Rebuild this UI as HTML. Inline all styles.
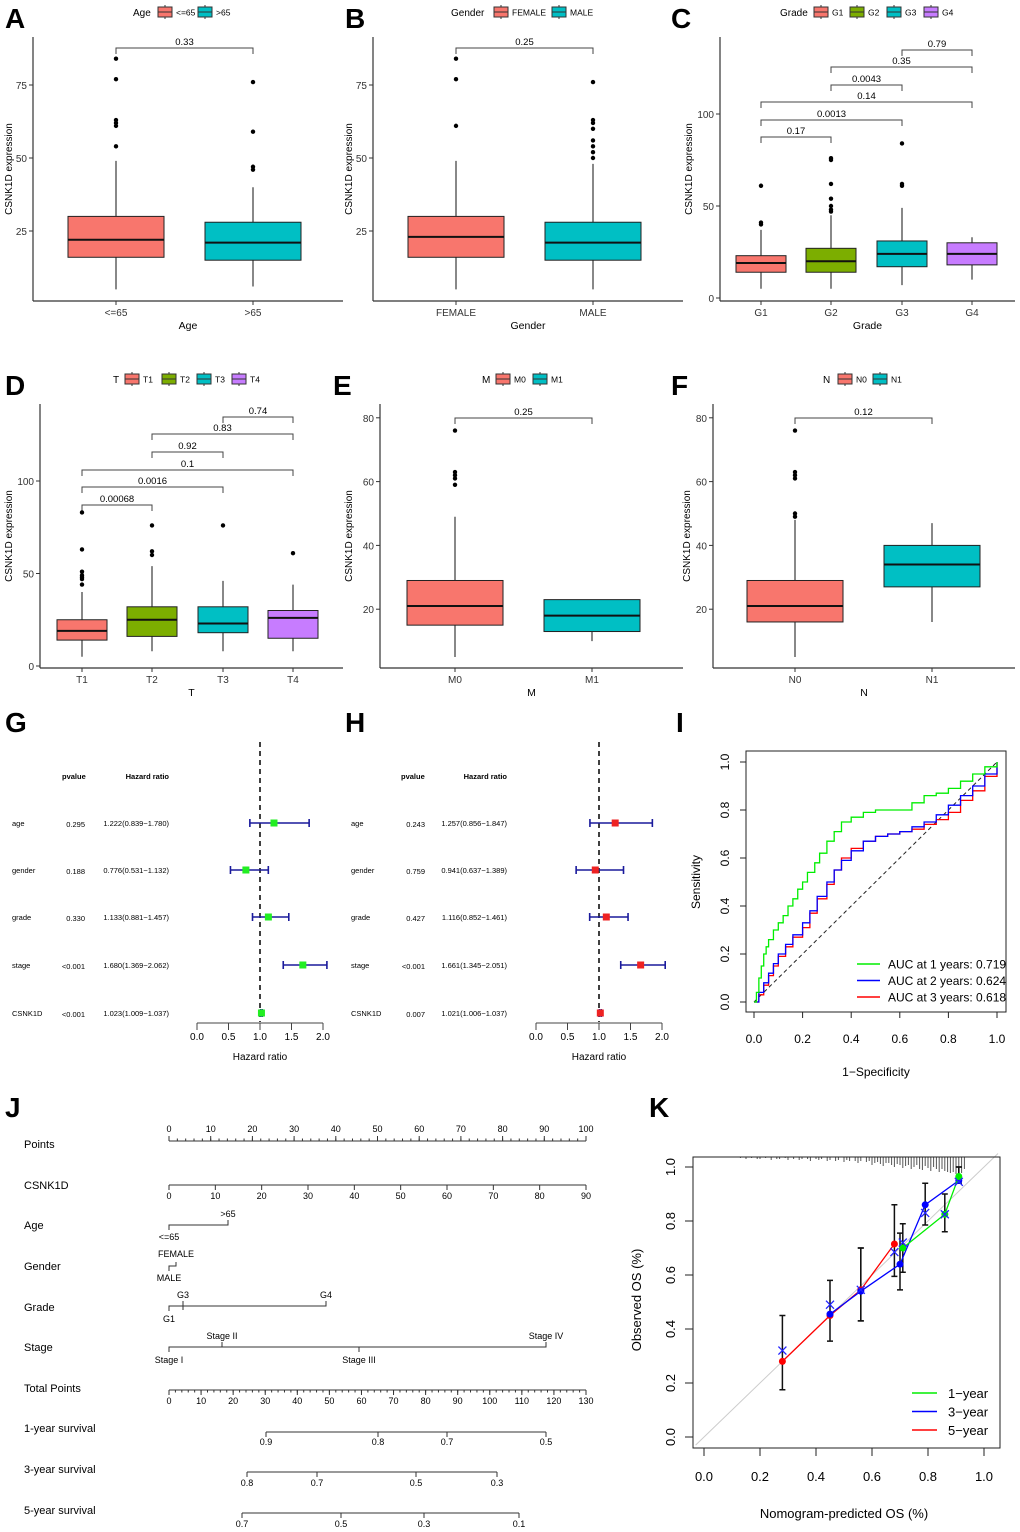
<!DOCTYPE html>
<html><head><meta charset="utf-8">
<style>
html,body{margin:0;padding:0;background:#fff;}
svg{display:block;font-family:"Liberation Sans",Arial,sans-serif;}
</style></head>
<body>
<svg id="fig" width="1020" height="1532" viewBox="0 0 1020 1532" xmlns="http://www.w3.org/2000/svg"></svg>
<script>
// ---------- DATA ----------
const ageCats = ["<=65", ">65"];
const ageStats = [[16,22,30,5,49],[15,21,28,6,40]];
const ageOut = [[54,61,62,63,77,84],[46,47,59,76]];
const genderCats = ["FEMALE","MALE"];
const genderStats = [[16,23,30,5,49],[15,21,28,5,48]];
const genderOut = [[61,77,84],[50,52,54,56,60,62,63,76]];
const gradeCats = ["G1","G2","G3","G4"];
const gradeStats = [[14,19,23,5,37],[14,20,27,5,45],[17,24,31,7,49],[18,24,30,10,33]];
const gradeOut = [[40,41,61],[47,48,50,54,62,75,76],[61,62,84],[]];
const gradeP = [["0.79",2,3],["0.35",1,3],["0.0043",1,2],["0.14",0,3],["0.0013",0,2],["0.17",0,1]];
const tCats = ["T1","T2","T3","T4"];
const tStats = [[14,19,25,5,40],[16,25,32,8,54],[18,23,32,8,46],[15,26,30,8,44]];
const tOut = [[44,47,48,49,51,63,83],[60,62,76],[76],[61]];
const tP = [["0.74",2,3],["0.83",1,3],["0.92",1,2],["0.1",0,3],["0.0016",0,2],["0.00068",0,1]];
const mCats = ["M0","M1"];
const mStats = [[15,21,29,5,49],[13,18,23,10,23]];
const mOut = [[59,61,62,63,76],[]];
const nCats = ["N0","N1"];
const nStats = [[16,21,29,5,48],[27,34,40,16,47]];
const nOut = [[49,50,61,62,63,76],[]];
const forestVars = ["age","gender","grade","stage","CSNK1D"];
const uniP = ["0.295","0.188","0.330","<0.001","<0.001"];
const uniHR = [1.222,0.776,1.133,1.680,1.023];
const uniLo = [0.839,0.531,0.881,1.369,1.009];
const uniHi = [1.780,1.132,1.457,2.062,1.037];
const multiP = ["0.243","0.759","0.427","<0.001","0.007"];
const multiHR = [1.257,0.941,1.116,1.661,1.021];
const multiLo = [0.856,0.637,0.852,1.345,1.006];
const multiHi = [1.847,1.389,1.461,2.051,1.037];
const hrTicks = [0,0.5,1,1.5,2];
const rocG_fpr = [0,0.01,0.02,0.03,0.04,0.05,0.06,0.08,0.1,0.12,0.14,0.16,0.18,0.2,0.22,0.25,0.27,0.3,0.33,0.36,0.4,0.45,0.5,0.55,0.6,0.65,0.7,0.75,0.8,0.85,0.9,0.95,1];
const rocG_tpr = [0,0.04,0.1,0.15,0.2,0.23,0.26,0.3,0.33,0.36,0.4,0.43,0.47,0.5,0.54,0.58,0.62,0.67,0.71,0.75,0.77,0.79,0.8,0.8,0.8,0.83,0.86,0.87,0.89,0.92,0.95,0.98,1];
const rocB_fpr = [0,0.02,0.04,0.06,0.08,0.1,0.13,0.16,0.2,0.23,0.26,0.3,0.33,0.36,0.4,0.45,0.5,0.55,0.6,0.65,0.7,0.75,0.8,0.85,0.9,0.95,1];
const rocB_tpr = [0,0.04,0.08,0.12,0.16,0.2,0.24,0.28,0.33,0.38,0.44,0.5,0.55,0.59,0.63,0.67,0.69,0.7,0.71,0.73,0.75,0.78,0.82,0.86,0.9,0.95,1];
const rocR_fpr = [0,0.02,0.04,0.06,0.08,0.1,0.13,0.16,0.2,0.23,0.26,0.3,0.33,0.36,0.4,0.45,0.5,0.55,0.6,0.65,0.7,0.75,0.8,0.85,0.9,0.95,1];
const rocR_tpr = [0,0.03,0.07,0.11,0.15,0.19,0.23,0.27,0.31,0.37,0.43,0.49,0.55,0.6,0.64,0.67,0.69,0.7,0.71,0.72,0.74,0.76,0.79,0.84,0.88,0.94,1];
const rocTicks = [0,0.2,0.4,0.6,0.8,1];
const rocLegend = ["AUC at 1 years: 0.719","AUC at 2 years: 0.624","AUC at 3 years: 0.618"];
const cal1x = [0.71,0.86,0.91], cal1y=[0.70,0.825,0.965], cal1lo=[0.61,0.76,0.94], cal1hi=[0.79,0.90,1.0];
const cal3x = [0.45,0.56,0.70,0.79,0.91], cal3y=[0.455,0.54,0.64,0.86,0.95], cal3lo=[0.355,0.43,0.545,0.785,0.94], cal3hi=[0.58,0.70,0.755,0.94,1.0];
const cal3xm = [0.28,0.45,0.56,0.68,0.71,0.79,0.86,0.91], cal3ym=[0.32,0.49,0.545,0.685,0.72,0.83,0.825,0.945];
const cal5x = [0.28,0.45,0.56,0.68], cal5y=[0.28,0.45,0.545,0.715], cal5lo=[0.175,0.45,0.43,0.595], cal5hi=[0.45,0.45,0.70,0.86];
const calRug = [0.13,0.15,0.17,0.19,0.2,0.22,0.24,0.26,0.27,0.29,0.3,0.32,0.34,0.35,0.37,0.38,0.4,0.41,0.42,0.44,0.45,0.47,0.48,0.5,0.51,0.52,0.54,0.55,0.56,0.58,0.59,0.6,0.61,0.62,0.63,0.64,0.65,0.66,0.67,0.68,0.69,0.7,0.71,0.72,0.73,0.74,0.75,0.76,0.77,0.78,0.79,0.8,0.81,0.82,0.83,0.84,0.85,0.86,0.87,0.88,0.89,0.9,0.91,0.92,0.93];
const calRugH = [1,2,1,2,2,1,3,2,2,1,3,2,3,2,2,4,2,3,2,4,3,4,3,5,3,4,4,6,4,5,4,8,6,5,7,9,6,6,8,10,7,8,11,9,8,12,10,8,12,13,9,11,14,10,12,15,12,14,15,16,15,17,18,16,12];
const calTicks = [0,0.2,0.4,0.6,0.8,1];

// ---------- HELPERS ----------
const NS="http://www.w3.org/2000/svg";
const svg=document.getElementById('fig');
function mk(tag,attrs,parent,text){const e=document.createElementNS(NS,tag);for(const k in attrs)e.setAttribute(k,attrs[k]);if(text!==undefined)e.textContent=text;(parent||svg).appendChild(e);return e;}
function grp(name){const g=document.createElementNS(NS,'g');


svg.appendChild(g);return g;}
function txt(g,x,y,s,size,anchor,extra){return mk('text',Object.assign({x:x,y:y,'font-size':size,'text-anchor':anchor||'start',fill:'#000'},extra||{}),g,s);}
const COLORS=["#F8766D","#7CAE00","#00BFC4","#C77CFF"];
const COLORS2=["#F8766D","#00BFC4"];

function letter(ch,x,y){const g=grp('panel-label-'+ch.toLowerCase());txt(g,x,y,ch,28,'start',{'font-weight':'bold'});}

function boxPanel(o){
  const g=grp(o.name);
  const ys=v=>o.y0-v*o.k;
  mk('line',{x1:o.left,y1:o.top,x2:o.left,y2:o.bottom,stroke:'#333','stroke-width':1.2},g);
  mk('line',{x1:o.left,y1:o.bottom,x2:o.right,y2:o.bottom,stroke:'#333','stroke-width':1.2},g);
  o.yticks.forEach(v=>{const y=ys(v);mk('line',{x1:o.left-4,y1:y,x2:o.left,y2:y,stroke:'#333'},g);txt(g,o.left-6,y+4,String(v),10,'end',{fill:'#333'});});
  const yt=txt(g,o.ytx,(o.top+o.bottom)/2,'CSNK1D  expression',10,'middle',{transform:`rotate(-90 ${o.ytx} ${(o.top+o.bottom)/2})`});
  
  o.cats.forEach((c,i)=>{
    const cx=o.centers[i],s=o.stats[i],hw=o.hw;
    const b=grp(o.name+'-box-'+c);
    mk('line',{x1:cx,y1:ys(s[3]),x2:cx,y2:ys(s[4]),stroke:'#111','stroke-width':1},b);
    mk('rect',{x:cx-hw,y:ys(s[2]),width:2*hw,height:ys(s[0])-ys(s[2]),fill:o.colors[i],stroke:'#222','stroke-width':1},b);
    mk('line',{x1:cx-hw,y1:ys(s[1]),x2:cx+hw,y2:ys(s[1]),stroke:'#111','stroke-width':2},b);
    o.out[i].forEach(v=>mk('circle',{cx:cx,cy:ys(v),r:2.2,fill:'#000'},b));
    mk('line',{x1:cx,y1:o.bottom,x2:cx,y2:o.bottom+4,stroke:'#333'},g);
    txt(g,cx,o.bottom+15,c,10,'middle',{fill:'#333'});
  });
  const xt=txt(g,(o.left+o.right)/2,o.bottom+28,o.xtitle,10.5,'middle');
  
  o.pvals.forEach((p,j)=>{const y=o.pY[j],x1=o.centers[p[1]],x2=o.centers[p[2]];
    mk('path',{d:`M${x1} ${y+6}V${y}H${x2}V${y+6}`,fill:'none',stroke:'#444','stroke-width':1},g);
    txt(g,(x1+x2)/2,y-3,p[0],9.5,'middle');});
  const lg=grp(o.name+'-legend');
  txt(lg,o.legX,o.legY+4,o.legTitle,10,'start');
  o.cats.forEach((c,i)=>{const bx=o.legBox[i];
    mk('line',{x1:bx+7,y1:o.legY-7,x2:bx+7,y2:o.legY+7,stroke:'#333'},lg);
    mk('rect',{x:bx,y:o.legY-5,width:14,height:10,fill:o.colors[i],stroke:'#333'},lg);
    mk('line',{x1:bx,y1:o.legY,x2:bx+14,y2:o.legY,stroke:'#333'},lg);
    txt(lg,bx+18,o.legY+3.5,c,8.5,'start');});
}

letter('A',5,28);letter('B',345,28);letter('C',671,28);
letter('D',5,395);letter('E',333,395);letter('F',671,395);
letter('G',5,732);letter('H',345,732);letter('I',676,732);
letter('J',5,1117);letter('K',649,1117);

boxPanel({name:'age-boxplot',left:33,right:343,top:37,bottom:301,y0:304,k:2.92,yticks:[25,50,75],ytx:12,cats:ageCats,stats:ageStats,out:ageOut,centers:[116,253],hw:48,colors:COLORS2,xtitle:'Age',pvals:[["0.33",0,1]],pY:[48],legX:133,legY:12,legTitle:'Age',legBox:[158,198]});
boxPanel({name:'gender-boxplot',left:373,right:683,top:37,bottom:301,y0:304,k:2.92,yticks:[25,50,75],ytx:352,cats:genderCats,stats:genderStats,out:genderOut,centers:[456,593],hw:48,colors:COLORS2,xtitle:'Gender',pvals:[["0.25",0,1]],pY:[48],legX:451,legY:12,legTitle:'Gender',legBox:[494,552]});
boxPanel({name:'grade-boxplot',left:720,right:1015,top:37,bottom:301,y0:298,k:1.84,yticks:[0,50,100],ytx:692,cats:gradeCats,stats:gradeStats,out:gradeOut,centers:[761,831,902,972],hw:25,colors:COLORS,xtitle:'Grade',pvals:gradeP,pY:[50,67,85,102,120,137],legX:780,legY:12,legTitle:'Grade',legBox:[814,850,887,924]});
boxPanel({name:'t-stage-boxplot',left:40,right:343,top:404,bottom:668,y0:666,k:1.85,yticks:[0,50,100],ytx:12,cats:tCats,stats:tStats,out:tOut,centers:[82,152,223,293],hw:25,colors:COLORS,xtitle:'T',pvals:tP,pY:[417,434,452,470,487,505],legX:113,legY:379,legTitle:'T',legBox:[125,162,197,232]});
boxPanel({name:'m-stage-boxplot',left:380,right:683,top:404,bottom:668,y0:673,k:3.19,yticks:[20,40,60,80],ytx:352,cats:mCats,stats:mStats,out:mOut,centers:[455,592],hw:48,colors:COLORS2,xtitle:'M',pvals:[["0.25",0,1]],pY:[418],legX:482,legY:379,legTitle:'M',legBox:[496,533]});
boxPanel({name:'n-stage-boxplot',left:713,right:1015,top:404,bottom:668,y0:673,k:3.19,yticks:[20,40,60,80],ytx:690,cats:nCats,stats:nStats,out:nOut,centers:[795,932],hw:48,colors:COLORS2,xtitle:'N',pvals:[["0.12",0,1]],pY:[418],legX:823,legY:379,legTitle:'N',legBox:[838,873]});

// ---------- FOREST ----------
function forest(o){
  const g=grp(o.name);
  const xs=v=>o.x0+v*o.k;
  const rows=[823,870,917,965,1013];
  txt(g,o.nameX+50,779,'pvalue',7.5,'start',{'font-weight':'bold'});
  txt(g,o.hrR,779,'Hazard ratio',7.5,'end',{'font-weight':'bold'});
  mk('line',{x1:xs(1),y1:742,x2:xs(1),y2:1022,stroke:'#111','stroke-width':1.6,'stroke-dasharray':'5,4'},g);
  forestVars.forEach((v,i)=>{const y=rows[i];
    txt(g,o.nameX,y+3,v,7.5,'start');
    txt(g,o.pR,y+4,o.p[i],7.5,'end');
    txt(g,o.hrR,y+3,`${o.hr[i].toFixed(3)}(${o.lo[i].toFixed(3)}\u2212${o.hi[i].toFixed(3)})`,7.5,'end');
    const r=grp(o.name+'-row-'+v);
    mk('line',{x1:xs(o.lo[i]),y1:y,x2:xs(o.hi[i]),y2:y,stroke:'#1a1a9c','stroke-width':1.6},r);
    mk('line',{x1:xs(o.lo[i]),y1:y-4,x2:xs(o.lo[i]),y2:y+4,stroke:'#1a1a9c','stroke-width':1.6},r);
    mk('line',{x1:xs(o.hi[i]),y1:y-4,x2:xs(o.hi[i]),y2:y+4,stroke:'#1a1a9c','stroke-width':1.6},r);
    mk('rect',{x:xs(o.hr[i])-3.5,y:y-3.5,width:7,height:7,fill:o.col},r);
  });
  mk('line',{x1:xs(0),y1:1023,x2:xs(2),y2:1023,stroke:'#444'},g);
  hrTicks.forEach(t=>{mk('line',{x1:xs(t),y1:1023,x2:xs(t),y2:1030,stroke:'#444'},g);txt(g,xs(t),1040,t.toFixed(1),10,'middle');});
  txt(g,xs(1),1060,'Hazard ratio',10,'middle');
}
forest({name:'univariate-forest',x0:197,k:63,nameX:12,pR:85,hrR:169,p:uniP,hr:uniHR,lo:uniLo,hi:uniHi,col:'#22ee22'});
forest({name:'multivariate-forest',x0:536,k:63,nameX:351,pR:425,hrR:507,p:multiP,hr:multiHR,lo:multiLo,hi:multiHi,col:'#ee2222'});

// ---------- ROC ----------
(function(){
  const g=grp('roc-chart');
  const xs=v=>754+v*243, ys=v=>1002-v*240;
  mk('rect',{x:746,y:751,width:260,height:261,fill:'none',stroke:'#222'},g);
  mk('line',{x1:xs(0),y1:ys(0),x2:xs(1),y2:ys(1),stroke:'#222','stroke-dasharray':'4,3'},g);
  rocTicks.forEach(t=>{mk('line',{x1:xs(t),y1:1012,x2:xs(t),y2:1018,stroke:'#222'},g);txt(g,xs(t),1043,t.toFixed(1),12,'middle');
    mk('line',{x1:740,y1:ys(t),x2:746,y2:ys(t),stroke:'#222'},g);txt(g,729,ys(t),t.toFixed(1),12,'middle',{transform:`rotate(-90 729 ${ys(t)})`});});
  txt(g,700,882,'Sensitivity',12,'middle',{transform:'rotate(-90 700 882)'});
  txt(g,876,1076,'1\u2212Specificity',12,'middle');
  function step(fx,ty,col,nm){let d=`M${xs(fx[0])} ${ys(ty[0])}`;for(let i=1;i<fx.length;i++){d+=`H${xs(fx[i])}V${ys(ty[i])}`;}
    const p=mk('path',{d:d,fill:'none',stroke:col,'stroke-width':1.3},g);
    
    }
  step(rocR_fpr,rocR_tpr,'#ff0000','roc-3-year');
  step(rocB_fpr,rocB_tpr,'#0000ff','roc-2-year');
  step(rocG_fpr,rocG_tpr,'#00ee00','roc-1-year');
  const cols=['#00ee00','#0000ff','#ff0000'];
  rocLegend.forEach((s,i)=>{const y=964+i*16.5;mk('line',{x1:857,y1:y,x2:880,y2:y,stroke:cols[i],'stroke-width':1.5},g);txt(g,888,y+4.5,s,12,'start');});
})();

// ---------- NOMOGRAM ----------
(function(){
  const g=grp('nomogram');
  function label(s,y){txt(g,24,y+4,s,11,'start');}
  function scale(y,x0,x1,vals,xs,up,minor){
    mk('line',{x1:x0,y1:y,x2:x1,y2:y,stroke:'#333'},g);
    vals.forEach(v=>{const x=xs(v);mk('line',{x1:x,y1:y,x2:x,y2:up?y-5:y+5,stroke:'#333'},g);txt(g,x,up?y-9:y+14,String(v),9,'middle');});
    if(minor)minor.forEach(v=>{const x=xs(v);mk('line',{x1:x,y1:y,x2:x,y2:up?y-2.5:y+2.5,stroke:'#333'},g);});
  }
  label('Points',1144);
  const pts=[0,10,20,30,40,50,60,70,80,90,100];const ptsMinor=[];for(let i=0;i<=100;i+=2)ptsMinor.push(i);
  scale(1141,169,586,pts,v=>169+v*4.17,true,ptsMinor);
  label('CSNK1D',1185);
  scale(1185,169,586,[0,10,20,30,40,50,60,70,80,90],v=>169+v*417/90,false);
  label('Age',1225);
  mk('path',{d:'M169 1230V1225H228V1220',fill:'none',stroke:'#333'},g);
  txt(g,228,1217,'>65',9,'middle');txt(g,169,1240,'<=65',9,'middle');
  label('Gender',1266);
  mk('path',{d:'M169 1271V1266H176V1262',fill:'none',stroke:'#333'},g);
  txt(g,176,1257,'FEMALE',9,'middle');txt(g,169,1281,'MALE',9,'middle');
  label('Grade',1307);
  mk('path',{d:'M169 1311V1306H326V1301M183 1301V1310',fill:'none',stroke:'#333'},g);
  txt(g,183,1298,'G3',9,'middle');txt(g,326,1298,'G4',9,'middle');txt(g,169,1322,'G1',9,'middle');
  label('Stage',1347);
  mk('path',{d:'M169 1352V1347H546V1342M222 1342V1347M359 1347V1352',fill:'none',stroke:'#333'},g);
  txt(g,222,1339,'Stage II',9,'middle');txt(g,546,1339,'Stage IV',9,'middle');txt(g,169,1363,'Stage I',9,'middle');txt(g,359,1363,'Stage III',9,'middle');
  label('Total Points',1388);
  const tp=[];for(let i=0;i<=130;i+=10)tp.push(i);const tpm=[];for(let i=0;i<=130;i+=2)tpm.push(i);
  scale(1390,169,586,tp,v=>169+v*417/130,false,tpm);
  label('1-year survival',1428);
  mk('line',{x1:266,y1:1432,x2:546,y2:1432,stroke:'#333'},g);
  [[266,'0.9'],[378,'0.8'],[447,'0.7'],[546,'0.5']].forEach(a=>{mk('line',{x1:a[0],y1:1432,x2:a[0],y2:1437,stroke:'#333'},g);txt(g,a[0],1445,a[1],9,'middle');});
  label('3-year survival',1469);
  mk('line',{x1:247,y1:1472,x2:497,y2:1472,stroke:'#333'},g);
  [[247,'0.8'],[317,'0.7'],[416,'0.5'],[497,'0.3']].forEach(a=>{mk('line',{x1:a[0],y1:1472,x2:a[0],y2:1477,stroke:'#333'},g);txt(g,a[0],1486,a[1],9,'middle');});
  label('5-year survival',1510);
  mk('line',{x1:242,y1:1513,x2:519,y2:1513,stroke:'#333'},g);
  [[242,'0.7'],[341,'0.5'],[424,'0.3'],[519,'0.1']].forEach(a=>{mk('line',{x1:a[0],y1:1513,x2:a[0],y2:1518,stroke:'#333'},g);txt(g,a[0],1527,a[1],9,'middle');});
})();

// ---------- CALIBRATION ----------
(function(){
  const g=grp('calibration-chart');
  const xs=v=>704+v*280, ys=v=>1437-v*270;
  mk('line',{x1:xs(-0.03),y1:ys(-0.03),x2:xs(1.05),y2:ys(1.05),stroke:'#ccc'},g);
  calRug.forEach((v,i)=>mk('line',{x1:xs(v),y1:1157,x2:xs(v),y2:1157+calRugH[i],stroke:'#555','stroke-width':1},g));
  mk('rect',{x:693,y:1157,width:307,height:291,fill:'none',stroke:'#222'},g);
  calTicks.forEach(t=>{mk('line',{x1:xs(t),y1:1448,x2:xs(t),y2:1456,stroke:'#222'},g);txt(g,xs(t),1481,t.toFixed(1),13,'middle');
    mk('line',{x1:685,y1:ys(t),x2:693,y2:ys(t),stroke:'#222'},g);txt(g,675,ys(t),t.toFixed(1),13,'middle',{transform:`rotate(-90 675 ${ys(t)})`});});
  txt(g,641,1300,'Observed OS (%)',13,'middle',{transform:'rotate(-90 641 1300)'});
  txt(g,844,1518,'Nomogram-predicted OS (%)',13,'middle');
  function err(xa,lo,hi){xa.forEach((x,i)=>{if(hi[i]-lo[i]<0.001)return;const X=xs(x);mk('path',{d:`M${X} ${ys(lo[i])}V${ys(hi[i])}M${X-3} ${ys(lo[i])}H${X+3}M${X-3} ${ys(hi[i])}H${X+3}`,stroke:'#111','stroke-width':1.5,fill:'none'},g);});}
  err(cal1x,cal1lo,cal1hi);err(cal3x,cal3lo,cal3hi);err(cal5x,cal5lo,cal5hi);
  function series(xa,ya,col,nm){const p=mk('polyline',{points:xa.map((x,i)=>xs(x)+','+ys(ya[i])).join(' '),fill:'none',stroke:col,'stroke-width':1.3},g);
    
    
    xa.forEach((x,i)=>mk('circle',{cx:xs(x),cy:ys(ya[i]),r:3.5,fill:col},g));}
  series(cal5x,cal5y,'#ff0000','calibration-5-year');
  series(cal3x,cal3y,'#0000ff','calibration-3-year');
  series(cal1x,cal1y,'#00ee00','calibration-1-year');
  cal3xm.forEach((x,i)=>{const X=xs(x),Y=ys(cal3ym[i]);mk('path',{d:`M${X-4} ${Y-4}L${X+4} ${Y+4}M${X-4} ${Y+4}L${X+4} ${Y-4}`,stroke:'#2222ff','stroke-width':1.3},g);});
  const lab=['1\u2212year','3\u2212year','5\u2212year'],cols=['#00ee00','#0000ff','#ff0000'];
  lab.forEach((s,i)=>{const y=1393+i*18.5;mk('line',{x1:912,y1:y,x2:937,y2:y,stroke:cols[i],'stroke-width':1.5},g);txt(g,948,y+5,s,13,'start');});
})();
</script>
</body></html>
